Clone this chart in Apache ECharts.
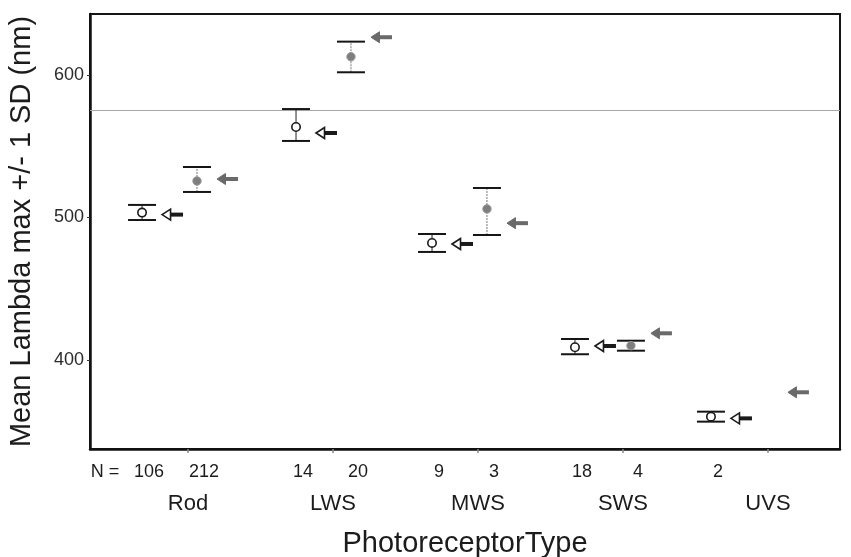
<!DOCTYPE html>
<html>
<head>
<meta charset="utf-8">
<script src="https://cdn.jsdelivr.net/npm/echarts@6/dist/echarts.min.js"></script>
<style>html,body{margin:0;padding:0;background:#fff}#c{width:851px;height:557px}</style>
</head>
<body>
<div id="c"></div>
<script>
// ---- data ----
const categories = ['Rod', 'LWS', 'MWS', 'SWS', 'UVS'];
const nOpen   = ['106', '14', '9', '18', '2'];
const nFilled = ['212', '20', '3', '4', ''];
// group positions along the category axis (category units)
const openPos   = [-0.317, 0.745, 1.683, 2.669, 3.607];
const filledPos = [0.062, 1.124, 2.062, 3.055, 4.0];
// measured groups (open circles)
const openMean = [503.4, 563.5, 482.1, 408.9, 360.2];
const openLow  = [498.2, 553.7, 475.8, 404.0, 356.7];
const openHigh = [508.8, 576.1, 488.4, 414.7, 363.7];
// measured groups (grey filled circles)
const filledMean = [525.6, 612.8, 506.0, 410.0, null];
const filledLow  = [517.9, 601.9, 487.7, 406.5, null];
const filledHigh = [535.4, 623.4, 520.7, 413.5, null];
// arrow (reference) values
const openArrow   = [502.0, 559.3, 481.4, 409.8, 359.0];
const filledArrow = [527.0, 626.5, 496.0, 418.7, 377.3];
const refLine = 575;
const yTicks = [400, 500, 600];
const yMin = 337.5, yMax = 642.8;
const xMin = -0.676, xMax = 4.497;

const FONT = '"Liberation Sans", Arial, sans-serif';
const TXT = '#1c1c1c';

const openBars = categories.map((c, i) => [openPos[i], openMean[i], openLow[i], openHigh[i]]);
const filledBars = categories.map((c, i) => [filledPos[i], filledMean[i], filledLow[i], filledHigh[i]])
  .filter(d => d[1] != null);
const openArrows = categories.map((c, i) => [openPos[i], openArrow[i]]);
const filledArrows = categories.map((c, i) => [filledPos[i], filledArrow[i]]);

// N label positions / texts
const nLabelMap = new Map();
nLabelMap.set(-0.62, 'N =');
categories.forEach((c, i) => {
  nLabelMap.set(openPos[i], nOpen[i]);
  if (nFilled[i]) nLabelMap.set(filledPos[i], nFilled[i]);
});
const nLabelValues = Array.from(nLabelMap.keys());
const catValues = categories.map((c, i) => i);

function errorBar(filled) {
  return function (params, api) {
    const x = api.value(0);
    const pm = api.coord([x, api.value(1)]);
    const pl = api.coord([x, api.value(2)]);
    const ph = api.coord([x, api.value(3)]);
    const hw = 14;
    return {
      type: 'group',
      children: [
        { type: 'line', shape: { x1: pl[0], y1: pl[1], x2: ph[0], y2: ph[1] },
          style: { stroke: filled ? '#777' : '#222', lineWidth: 1, lineDash: filled ? [2, 1] : null } },
        { type: 'line', shape: { x1: pl[0] - hw, y1: pl[1], x2: pl[0] + hw, y2: pl[1] },
          style: { stroke: '#151515', lineWidth: 2 } },
        { type: 'line', shape: { x1: ph[0] - hw, y1: ph[1], x2: ph[0] + hw, y2: ph[1] },
          style: { stroke: '#151515', lineWidth: 2 } },
        { type: 'circle', shape: { cx: pm[0], cy: pm[1], r: 4.2 },
          style: filled ? { fill: '#7e7e7e', stroke: '#999', lineWidth: 1 }
                        : { fill: '#fff', stroke: '#1a1a1a', lineWidth: 1.6 } }
      ]
    };
  };
}

function arrow(filled) {
  return function (params, api) {
    const p = api.coord([api.value(0), api.value(1)]);
    const tx = p[0] + 20, y = p[1];
    const col = filled ? '#6a6a6a' : '#1a1a1a';
    return {
      type: 'group',
      children: [
        { type: 'rect', shape: { x: tx + 7, y: y - 2, width: 14, height: 4 },
          style: { fill: col } },
        { type: 'polygon', shape: { points: [[tx, y], [tx + 8.5, y - 5.5], [tx + 8.5, y + 5.5]] },
          style: filled ? { fill: col, stroke: col, lineWidth: 1 }
                        : { fill: '#fff', stroke: col, lineWidth: 1.6 } }
      ]
    };
  };
}

const chart = echarts.init(document.getElementById('c'), null, { renderer: 'canvas' });
chart.setOption({
  animation: false,
  backgroundColor: '#fff',
  grid: { left: 90, right: 11, top: 14, bottom: 108, outerBoundsMode: 'none', containLabel: false,
          show: true, borderColor: '#151515', borderWidth: 2, backgroundColor: 'transparent' },
  xAxis: [
    {
      type: 'value', min: xMin, max: xMax,
      axisLine: { show: true, onZero: false, lineStyle: { color: '#111', width: 2.5 } },
      splitLine: { show: false },
      axisTick: { show: false },
      axisLabel: {
        show: true, customValues: nLabelValues, margin: 14,
        padding: [0, 0, 0, 14],
        fontFamily: FONT, fontSize: 18, color: TXT,
        formatter: v => nLabelMap.has(v) ? nLabelMap.get(v) : ''
      },
      name: 'PhotoreceptorType', nameLocation: 'middle', nameGap: 80,
      nameTextStyle: { fontFamily: FONT, fontSize: 29, color: TXT }
    },
    {
      type: 'value', min: xMin, max: xMax, position: 'bottom',
      axisLine: { show: false, onZero: false },
      splitLine: { show: false },
      axisTick: { show: true, customValues: catValues, length: 4, inside: false, lineStyle: { color: '#888', width: 1.5 } },
      axisLabel: {
        show: true, customValues: catValues, margin: 44,
        fontFamily: FONT, fontSize: 22, color: TXT,
        formatter: v => categories[Math.round(v)]
      }
    }
  ],
  yAxis: {
    type: 'value', min: yMin, max: yMax,
    axisLine: { show: true, onZero: false, lineStyle: { color: '#111', width: 2.5 } },
    splitLine: { show: false },
    axisTick: { show: true, customValues: yTicks, length: 3, lineStyle: { color: '#333', width: 1 } },
    axisLabel: { customValues: yTicks, margin: 6, fontFamily: FONT, fontSize: 18, color: '#2a2a2a' },
    name: 'Mean Lambda max +/- 1 SD (nm)', nameLocation: 'middle', nameGap: 54,
    nameTextStyle: { fontFamily: FONT, fontSize: 29, color: TXT }
  },
  series: [
    {
      type: 'custom', name: 'open', xAxisIndex: 0, data: openBars, renderItem: errorBar(false), z: 5,
      markLine: {
        silent: true, symbol: 'none', label: { show: false },
        lineStyle: { color: '#a8a8a8', width: 1, type: 'solid' },
        data: [{ yAxis: refLine }]
      }
    },
    { type: 'custom', name: 'filled', xAxisIndex: 0, data: filledBars, renderItem: errorBar(true), z: 5 },
    { type: 'custom', name: 'openArrow', xAxisIndex: 0, data: openArrows, renderItem: arrow(false), z: 5 },
    { type: 'custom', name: 'filledArrow', xAxisIndex: 0, data: filledArrows, renderItem: arrow(true), z: 5 }
  ]
});
</script>
</body>
</html>
